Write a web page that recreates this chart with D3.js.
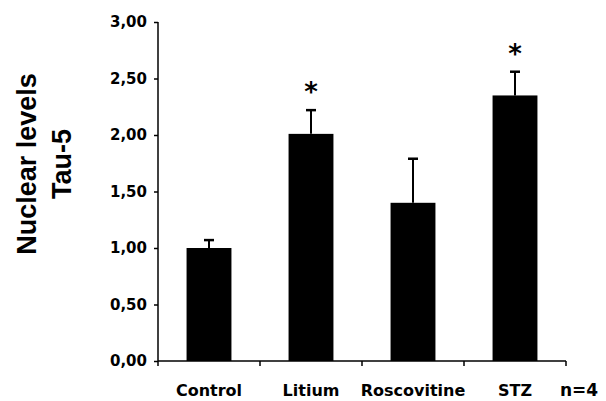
<!DOCTYPE html>
<html>
<head>
<meta charset="utf-8">
<script src="https://cdn.jsdelivr.net/npm/d3@7"></script>
<style>
  body { margin: 0; background: #fff; }
  svg { display: block; }
</style>
</head>
<body>
<svg></svg>
<script>
const categories = ['Control', 'Litium', 'Roscovitine', 'STZ'];
const means = [1.00, 2.01, 1.40, 2.35];
const errors = [0.07, 0.21, 0.39, 0.21];
const significant = [false, true, false, true];
const yTicks = [0, 0.5, 1, 1.5, 2, 2.5, 3];
const titleLines = ['Nuclear levels', 'Tau-5'];
const nLabel = 'n=4';

const [svgWidth, svgHeight] = [606, 401];
const svg = d3.select('svg')
  .attr('width', svgWidth)
  .attr('height', svgHeight);

const plot = {left: 158, right: 566, top: 22, bottom: 361};
const tickFont = '"DejaVu Sans", Verdana, sans-serif';
const labelFont = '"DejaVu Sans", sans-serif';

const x = d3.scaleBand()
  .domain(categories)
  .range([plot.left, plot.right])
  .paddingInner(0.56)
  .paddingOuter(0.28);
const y = d3.scaleLinear()
  .domain([0, 3])
  .range([plot.bottom, plot.top]);

const fmt = d3.formatLocale({decimal: ',', thousands: '.', grouping: [3], currency: ['', '']}).format('.2f');

// y axis
const yAxis = svg.append('g')
  .attr('transform', `translate(${plot.left}, 0)`)
  .call(d3.axisLeft(y).tickValues(yTicks).tickFormat(fmt).tickSize(4).tickPadding(7));
yAxis.select('.domain').attr('stroke-width', 1.5).attr('d', `M0,${plot.top}V${plot.bottom}`);
yAxis.selectAll('line').attr('stroke-width', 1.5);
yAxis.selectAll('text')
  .attr('font-family', tickFont)
  .attr('font-weight', 'bold')
  .attr('font-size', 15)
  .attr('fill', '#000');

// x axis line with ticks on band boundaries
const bounds = d3.range(categories.length + 1).map(i => plot.left + i * x.step());
const xAxis = svg.append('g');
xAxis.append('line')
  .attr('x1', plot.left).attr('x2', plot.right)
  .attr('y1', plot.bottom).attr('y2', plot.bottom)
  .attr('stroke', '#000').attr('stroke-width', 1.5);
xAxis.selectAll('.bt')
  .data(bounds)
  .join('line')
  .attr('class', 'bt')
  .attr('x1', d => d).attr('x2', d => d)
  .attr('y1', plot.bottom).attr('y2', plot.bottom + 5)
  .attr('stroke', '#000').attr('stroke-width', 1.5);

// bars
svg.append('g').selectAll('rect')
  .data(categories)
  .join('rect')
  .attr('x', d => x(d))
  .attr('width', x.bandwidth())
  .attr('y', (d, i) => y(means[i]))
  .attr('height', (d, i) => y(0) - y(means[i]))
  .attr('fill', '#000');

// error bars (upper only)
const err = svg.append('g')
  .attr('stroke', '#000')
  .attr('stroke-width', 2);
categories.forEach((c, i) => {
  const cx = x(c) + x.bandwidth() / 2;
  err.append('line')
    .attr('x1', cx).attr('x2', cx)
    .attr('y1', y(means[i])).attr('y2', y(means[i] + errors[i]));
  err.append('line')
    .attr('x1', cx - 5).attr('x2', cx + 5)
    .attr('y1', y(means[i] + errors[i])).attr('y2', y(means[i] + errors[i]))
    .attr('stroke-width', 2.5);
});

// asterisks
svg.append('g').selectAll('text')
  .data(categories.filter((c, i) => significant[i]))
  .join('text')
  .attr('x', d => x(d) + x.bandwidth() / 2)
  .attr('y', d => {
    const i = categories.indexOf(d);
    return y(means[i] + errors[i]) - 9;
  })
  .attr('text-anchor', 'middle')
  .attr('font-family', labelFont)
  .attr('font-weight', 'bold')
  .attr('font-size', 26)
  .text('*');

// category labels
svg.append('g').selectAll('text')
  .data(categories)
  .join('text')
  .attr('x', d => x(d) + x.bandwidth() / 2)
  .attr('y', 396)
  .attr('text-anchor', 'middle')
  .attr('font-family', labelFont)
  .attr('font-weight', 'bold')
  .attr('font-size', 16)
  .text(d => d);

svg.append('text')
  .attr('x', plot.right - 6)
  .attr('y', 396)
  .attr('font-family', labelFont)
  .attr('font-weight', 'bold')
  .attr('font-size', 17)
  .text(nLabel);

// y title, one text per line
svg.append('g').selectAll('text')
  .data(titleLines)
  .join('text')
  .attr('transform', (d, i) => `translate(${36 + i * 35}, 164) rotate(-90)`)
  .attr('text-anchor', 'middle')
  .attr('font-family', '"Liberation Sans", Arial, sans-serif')
  .attr('font-weight', 'bold')
  .attr('font-size', 27)
  .text(d => d);
</script>
</body>
</html>
